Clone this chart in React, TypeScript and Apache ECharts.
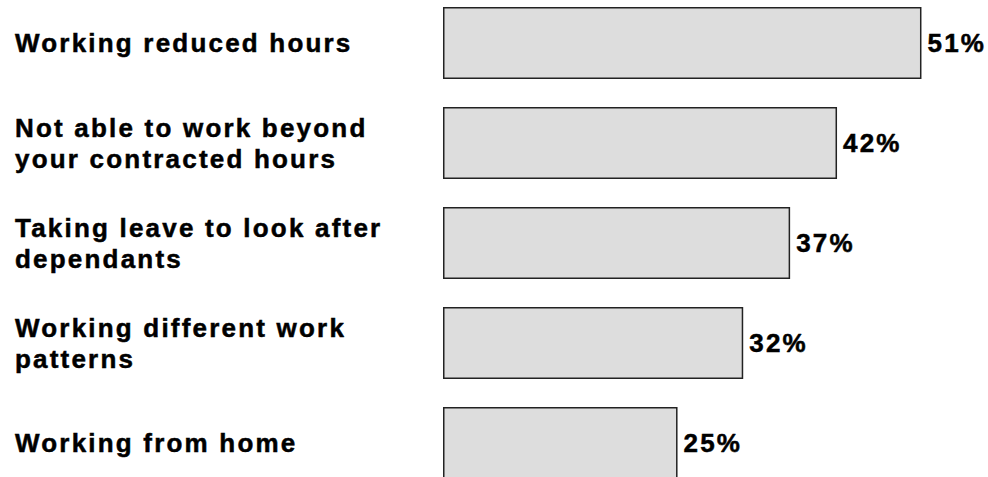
import React, { useEffect, useRef } from "react";
import * as echarts from "echarts";

const categories = [
  "Working reduced hours",
  "Not able to work beyond\nyour contracted hours",
  "Taking leave to look after\ndependants",
  "Working different work\npatterns",
  "Working from home",
];
const values = [51, 42, 37, 32, 25];

export default function App() {
  const ref = useRef<HTMLDivElement>(null);
  useEffect(() => {
    document.body.style.margin = "0";
    const chart = echarts.init(ref.current!, undefined, { renderer: "svg" });
    chart.setOption({
      animation: false,
      backgroundColor: "#ffffff",
      grid: {
        left: 443,
        top: -7,
        width: 516,
        height: 500,
        containLabel: false,
        outerBoundsMode: "none",
      },
      xAxis: {
        type: "value",
        min: 0,
        max: 55,
        show: false,
      },
      yAxis: {
        type: "category",
        data: categories,
        inverse: true,
        axisLine: { show: false },
        axisTick: { show: false },
        splitLine: { show: false },
        axisLabel: {
          align: "left",
          margin: 428,
          fontFamily: "Liberation Sans, Arial, sans-serif",
          fontWeight: "bold",
          fontSize: 26,
          lineHeight: 31,
          color: "#000",
          textBorderColor: "#000",
          textBorderWidth: 0.5,
        },
      },
      series: [
        {
          type: "bar",
          data: values,
          barWidth: 72,
          itemStyle: { color: "#dddddd", borderColor: "#222", borderWidth: 1.5 },
          label: {
            show: true,
            position: "right",
            distance: 6,
            formatter: "{c}%",
            fontFamily: "Liberation Sans, Arial, sans-serif",
            fontWeight: "bold",
            fontSize: 26,
            color: "#000",
            textBorderColor: "#000",
            textBorderWidth: 0.5,
          },
        },
      ],
    });
    return () => chart.dispose();
  }, []);
  return (
    <div
      ref={ref}
      style={{
        position: "fixed",
        left: 0,
        top: 0,
        width: 988,
        height: 477,
        letterSpacing: "2.2px",
      }}
    />
  );
}
